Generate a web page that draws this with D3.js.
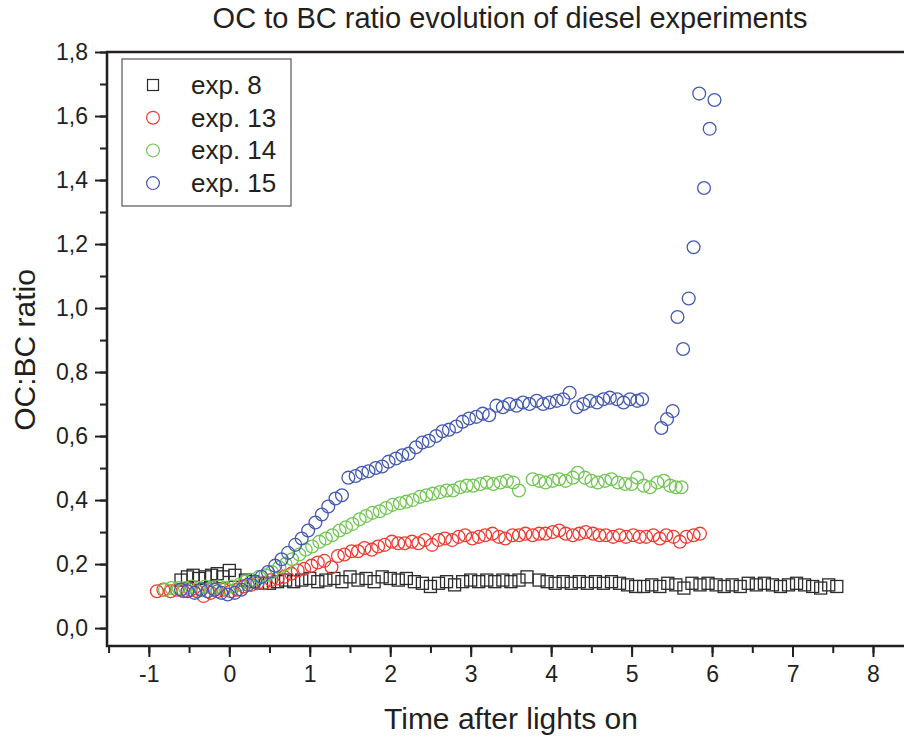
<!DOCTYPE html>
<html>
<head>
<meta charset="utf-8">
<script src="https://cdn.jsdelivr.net/npm/d3@7"></script>
<style>
  body { margin: 0; background: #fff; }
  text { font-family: "Liberation Sans", Arial, sans-serif; fill: #231f20; }
</style>
</head>
<body>
<svg id="chart"></svg>
<script>
// exp. 8 : [time, ratio]
const exp8 = [
  [-0.60,0.15],[-0.52,0.16],[-0.45,0.165],[-0.38,0.155],[-0.30,0.16],[-0.22,0.165],[-0.15,0.17],[-0.08,0.16],
  [0.00,0.18],[0.07,0.165],[0.20,0.15],[0.30,0.145],[0.40,0.14],[0.50,0.14],[0.60,0.145],[0.70,0.15],
  [0.80,0.145],[0.90,0.15],[1.00,0.155],[1.10,0.145],[1.20,0.15],[1.30,0.155],[1.40,0.145],[1.50,0.16],
  [1.60,0.15],[1.70,0.155],[1.80,0.145],[1.90,0.16],[2.00,0.155],[2.10,0.15],[2.20,0.155],[2.30,0.145],
  [2.40,0.14],[2.50,0.13],[2.60,0.14],[2.70,0.145],[2.80,0.135],[2.90,0.145],[3.00,0.15],[3.10,0.145],
  [3.20,0.15],[3.30,0.145],[3.40,0.15],[3.50,0.145],[3.60,0.15],[3.70,0.16],[3.85,0.15],[3.95,0.145],
  [4.05,0.14],[4.15,0.145],[4.25,0.14],[4.35,0.145],[4.45,0.14],[4.55,0.145],[4.65,0.14],[4.75,0.145],
  [4.85,0.14],[4.95,0.135],[5.05,0.13],[5.15,0.13],[5.25,0.135],[5.35,0.13],[5.45,0.14],[5.55,0.135],
  [5.65,0.125],[5.75,0.14],[5.85,0.135],[5.95,0.14],[6.05,0.135],[6.15,0.13],[6.25,0.135],[6.35,0.13],
  [6.45,0.14],[6.55,0.135],[6.65,0.14],[6.75,0.135],[6.85,0.13],[6.95,0.135],[7.05,0.14],[7.15,0.135],
  [7.25,0.13],[7.35,0.125],[7.45,0.135],[7.55,0.13]
];

const exp13 = [
  [-0.90,0.115],[-0.82,0.12],[-0.73,0.115],[-0.65,0.12],[-0.57,0.115],[-0.48,0.12],[-0.40,0.115],[-0.32,0.10],
  [-0.23,0.11],[-0.15,0.115],[-0.07,0.12],[0.02,0.115],[0.10,0.12],[0.18,0.13],[0.27,0.135],[0.35,0.14],
  [0.43,0.14],[0.52,0.15],[0.60,0.155],[0.68,0.16],[0.77,0.17],[0.85,0.18],[0.93,0.185],[1.02,0.195],
  [1.10,0.205],[1.18,0.21],[1.27,0.19],[1.35,0.225],[1.43,0.23],[1.52,0.24],[1.60,0.24],[1.68,0.25],
  [1.77,0.245],[1.85,0.255],[1.93,0.26],[2.02,0.27],[2.10,0.265],[2.18,0.265],[2.27,0.27],[2.35,0.265],
  [2.43,0.275],[2.52,0.26],[2.60,0.275],[2.68,0.28],[2.77,0.275],[2.85,0.285],[2.93,0.29],[3.02,0.28],
  [3.10,0.285],[3.18,0.29],[3.27,0.295],[3.35,0.285],[3.43,0.28],[3.52,0.29],[3.60,0.29],[3.68,0.295],
  [3.77,0.29],[3.85,0.295],[3.93,0.295],[4.02,0.30],[4.10,0.305],[4.18,0.295],[4.27,0.29],[4.35,0.295],
  [4.43,0.30],[4.52,0.295],[4.60,0.29],[4.68,0.29],[4.77,0.285],[4.85,0.29],[4.93,0.285],[5.02,0.29],
  [5.10,0.285],[5.18,0.285],[5.27,0.29],[5.35,0.28],[5.43,0.29],[5.52,0.285],[5.60,0.27],[5.68,0.285],
  [5.77,0.29],[5.85,0.295]
];

const exp14 = [
  [-0.80,0.12],[-0.72,0.125],[-0.63,0.125],[-0.55,0.125],[-0.47,0.13],[-0.38,0.125],[-0.30,0.13],[-0.22,0.125],
  [-0.13,0.13],[-0.05,0.125],[0.03,0.13],[0.12,0.135],[0.20,0.145],[0.28,0.15],[0.37,0.16],[0.45,0.165],
  [0.53,0.175],[0.62,0.19],[0.70,0.20],[0.78,0.215],[0.87,0.23],[0.95,0.245],[1.03,0.255],[1.12,0.27],
  [1.20,0.28],[1.28,0.29],[1.37,0.305],[1.45,0.315],[1.53,0.325],[1.62,0.34],[1.70,0.35],[1.78,0.36],
  [1.87,0.365],[1.95,0.375],[2.03,0.385],[2.12,0.39],[2.20,0.395],[2.28,0.40],[2.37,0.41],[2.45,0.415],
  [2.53,0.42],[2.62,0.425],[2.70,0.43],[2.78,0.43],[2.87,0.44],[2.95,0.445],[3.03,0.445],[3.12,0.45],
  [3.20,0.455],[3.28,0.45],[3.37,0.455],[3.45,0.46],[3.53,0.455],[3.60,0.43],[3.77,0.465],[3.85,0.46],
  [3.93,0.455],[4.02,0.46],[4.10,0.465],[4.18,0.46],[4.27,0.47],[4.33,0.485],[4.42,0.47],[4.50,0.46],
  [4.58,0.455],[4.67,0.46],[4.75,0.465],[4.83,0.455],[4.92,0.45],[5.00,0.45],[5.07,0.47],[5.15,0.445],
  [5.23,0.44],[5.32,0.455],[5.40,0.46],[5.48,0.445],[5.55,0.44],[5.62,0.44]
];

const exp15 = [
  [-0.60,0.12],[-0.52,0.115],[-0.43,0.11],[-0.35,0.12],[-0.27,0.115],[-0.18,0.12],[-0.10,0.11],[-0.02,0.105],
  [0.07,0.11],[0.15,0.12],[0.23,0.135],[0.32,0.145],[0.40,0.16],[0.48,0.175],[0.57,0.195],[0.65,0.215],
  [0.73,0.235],[0.82,0.26],[0.90,0.28],[0.98,0.305],[1.07,0.33],[1.15,0.355],[1.23,0.38],[1.32,0.405],
  [1.40,0.415],[1.48,0.47],[1.57,0.475],[1.65,0.485],[1.73,0.49],[1.82,0.50],[1.90,0.505],[1.98,0.52],
  [2.07,0.53],[2.15,0.54],[2.23,0.545],[2.32,0.565],[2.40,0.58],[2.48,0.585],[2.57,0.60],[2.65,0.615],
  [2.73,0.62],[2.82,0.63],[2.90,0.645],[2.98,0.655],[3.07,0.66],[3.15,0.67],[3.23,0.665],[3.32,0.695],
  [3.40,0.69],[3.48,0.70],[3.57,0.695],[3.65,0.705],[3.73,0.70],[3.82,0.71],[3.90,0.70],[3.98,0.705],
  [4.07,0.71],[4.15,0.715],[4.23,0.735],[4.32,0.69],[4.40,0.70],[4.48,0.71],[4.57,0.705],[4.65,0.715],
  [4.73,0.72],[4.82,0.715],[4.90,0.705],[4.98,0.715],[5.07,0.71],[5.13,0.715],
  [5.37,0.625],[5.44,0.653],[5.51,0.678],[5.57,0.972],[5.64,0.872],[5.71,1.03],[5.77,1.19],[5.84,1.67],
  [5.90,1.375],[5.97,1.56],[6.03,1.65]
];

const series = [
  { name: "exp. 8",  data: exp8,  shape: "square", color: "#2b2b2b" },
  { name: "exp. 13", data: exp13, shape: "circle", color: "#ee3b2f" },
  { name: "exp. 14", data: exp14, shape: "circle", color: "#72c653" },
  { name: "exp. 15", data: exp15, shape: "circle", color: "#4359b2" }
];

const xTicks = [-1, 0, 1, 2, 3, 4, 5, 6, 7, 8];
const yTicks = [0, 0.2, 0.4, 0.6, 0.8, 1.0, 1.2, 1.4, 1.6, 1.8];

const width = 904, height = 738;
const mLeft = 107, mTop = 52, mRight = 910, mBottom = 646;

const svg = d3.select("#chart").attr("width", width).attr("height", height);

const x = d3.scaleLinear().domain([-1.52, 8.46]).range([mLeft, mRight]);
const y = d3.scaleLinear().domain([-0.056, 1.8]).range([mBottom, mTop]);

const fmt = d => d3.format(".1f")(d).replace(".", ",");

// minor ticks
svg.append("g")
  .attr("transform", "translate(0," + mBottom + ")")
  .call(d3.axisBottom(x).tickValues(d3.range(-1.5, 8.6, 0.5)).tickSize(7).tickFormat(""))
  .call(g => g.select(".domain").remove())
  .selectAll("line").attr("stroke", "#231f20").attr("stroke-width", 2);

svg.append("g")
  .attr("transform", "translate(" + mLeft + ",0)")
  .call(d3.axisLeft(y).tickValues(d3.range(0, 1.81, 0.1)).tickSize(7).tickFormat(""))
  .call(g => g.select(".domain").remove())
  .selectAll("line").attr("stroke", "#231f20").attr("stroke-width", 2);

// major axes
const xAxis = svg.append("g")
  .attr("transform", "translate(0," + mBottom + ")")
  .call(d3.axisBottom(x).tickValues(xTicks).tickSize(11).tickPadding(9).tickFormat(d => d));
xAxis.select(".domain").remove();
xAxis.selectAll("line").attr("stroke", "#231f20").attr("stroke-width", 2);
xAxis.selectAll("text").attr("font-size", 23).style("font-family", "'Liberation Sans', Arial, sans-serif").attr("fill", "#231f20");

const yAxis = svg.append("g")
  .attr("transform", "translate(" + mLeft + ",0)")
  .call(d3.axisLeft(y).tickValues(yTicks).tickSize(12).tickPadding(7).tickFormat(fmt));
yAxis.select(".domain").remove();
yAxis.selectAll("line").attr("stroke", "#231f20").attr("stroke-width", 2);
yAxis.selectAll("text").attr("font-size", 23).style("font-family", "'Liberation Sans', Arial, sans-serif").attr("fill", "#231f20");

// frame (left, bottom, top)
svg.append("path")
  .attr("d", "M" + mRight + "," + mTop + "H" + mLeft + "V" + mBottom + "H" + mRight)
  .attr("fill", "none").attr("stroke", "#231f20").attr("stroke-width", 2.5);

// points
const plot = svg.append("g");
series.forEach(s => {
  const g = plot.append("g");
  if (s.shape === "square") {
    g.selectAll("rect").data(s.data).enter().append("rect")
      .attr("x", d => x(d[0]) - 6)
      .attr("y", d => y(d[1]) - 6)
      .attr("width", 12).attr("height", 12)
      .attr("fill", "none").attr("stroke", s.color).attr("stroke-width", 1.3);
  } else {
    g.selectAll("circle").data(s.data).enter().append("circle")
      .attr("cx", d => x(d[0]))
      .attr("cy", d => y(d[1]))
      .attr("r", 6.4)
      .attr("fill", "none").attr("stroke", s.color).attr("stroke-width", 1.3);
  }
});

// legend
const legend = svg.append("g").attr("transform", "translate(122,59)");
legend.append("rect").attr("width", 169).attr("height", 147)
  .attr("fill", "#fff").attr("stroke", "#555").attr("stroke-width", 1.2);
series.forEach((s, i) => {
  const ly = 26 + i * 32.7;
  if (s.shape === "square") {
    legend.append("rect").attr("x", 25.5).attr("y", ly - 5.5).attr("width", 11).attr("height", 11)
      .attr("fill", "none").attr("stroke", s.color).attr("stroke-width", 1.2);
  } else {
    legend.append("circle").attr("cx", 31).attr("cy", ly).attr("r", 6.4)
      .attr("fill", "none").attr("stroke", s.color).attr("stroke-width", 1.2);
  }
  legend.append("text").attr("x", 69).attr("y", ly + 9).attr("font-size", 26).text(s.name);
});

// titles
svg.append("text").attr("x", 510).attr("y", 28).attr("text-anchor", "middle")
  .attr("font-size", 29).text("OC to BC ratio evolution of diesel experiments");
svg.append("text").attr("x", 511).attr("y", 729).attr("text-anchor", "middle")
  .attr("font-size", 30).text("Time after lights on");
svg.append("text").attr("transform", "translate(35,350) rotate(-90)").attr("text-anchor", "middle")
  .attr("font-size", 30).text("OC:BC ratio");
</script>
</body>
</html>
